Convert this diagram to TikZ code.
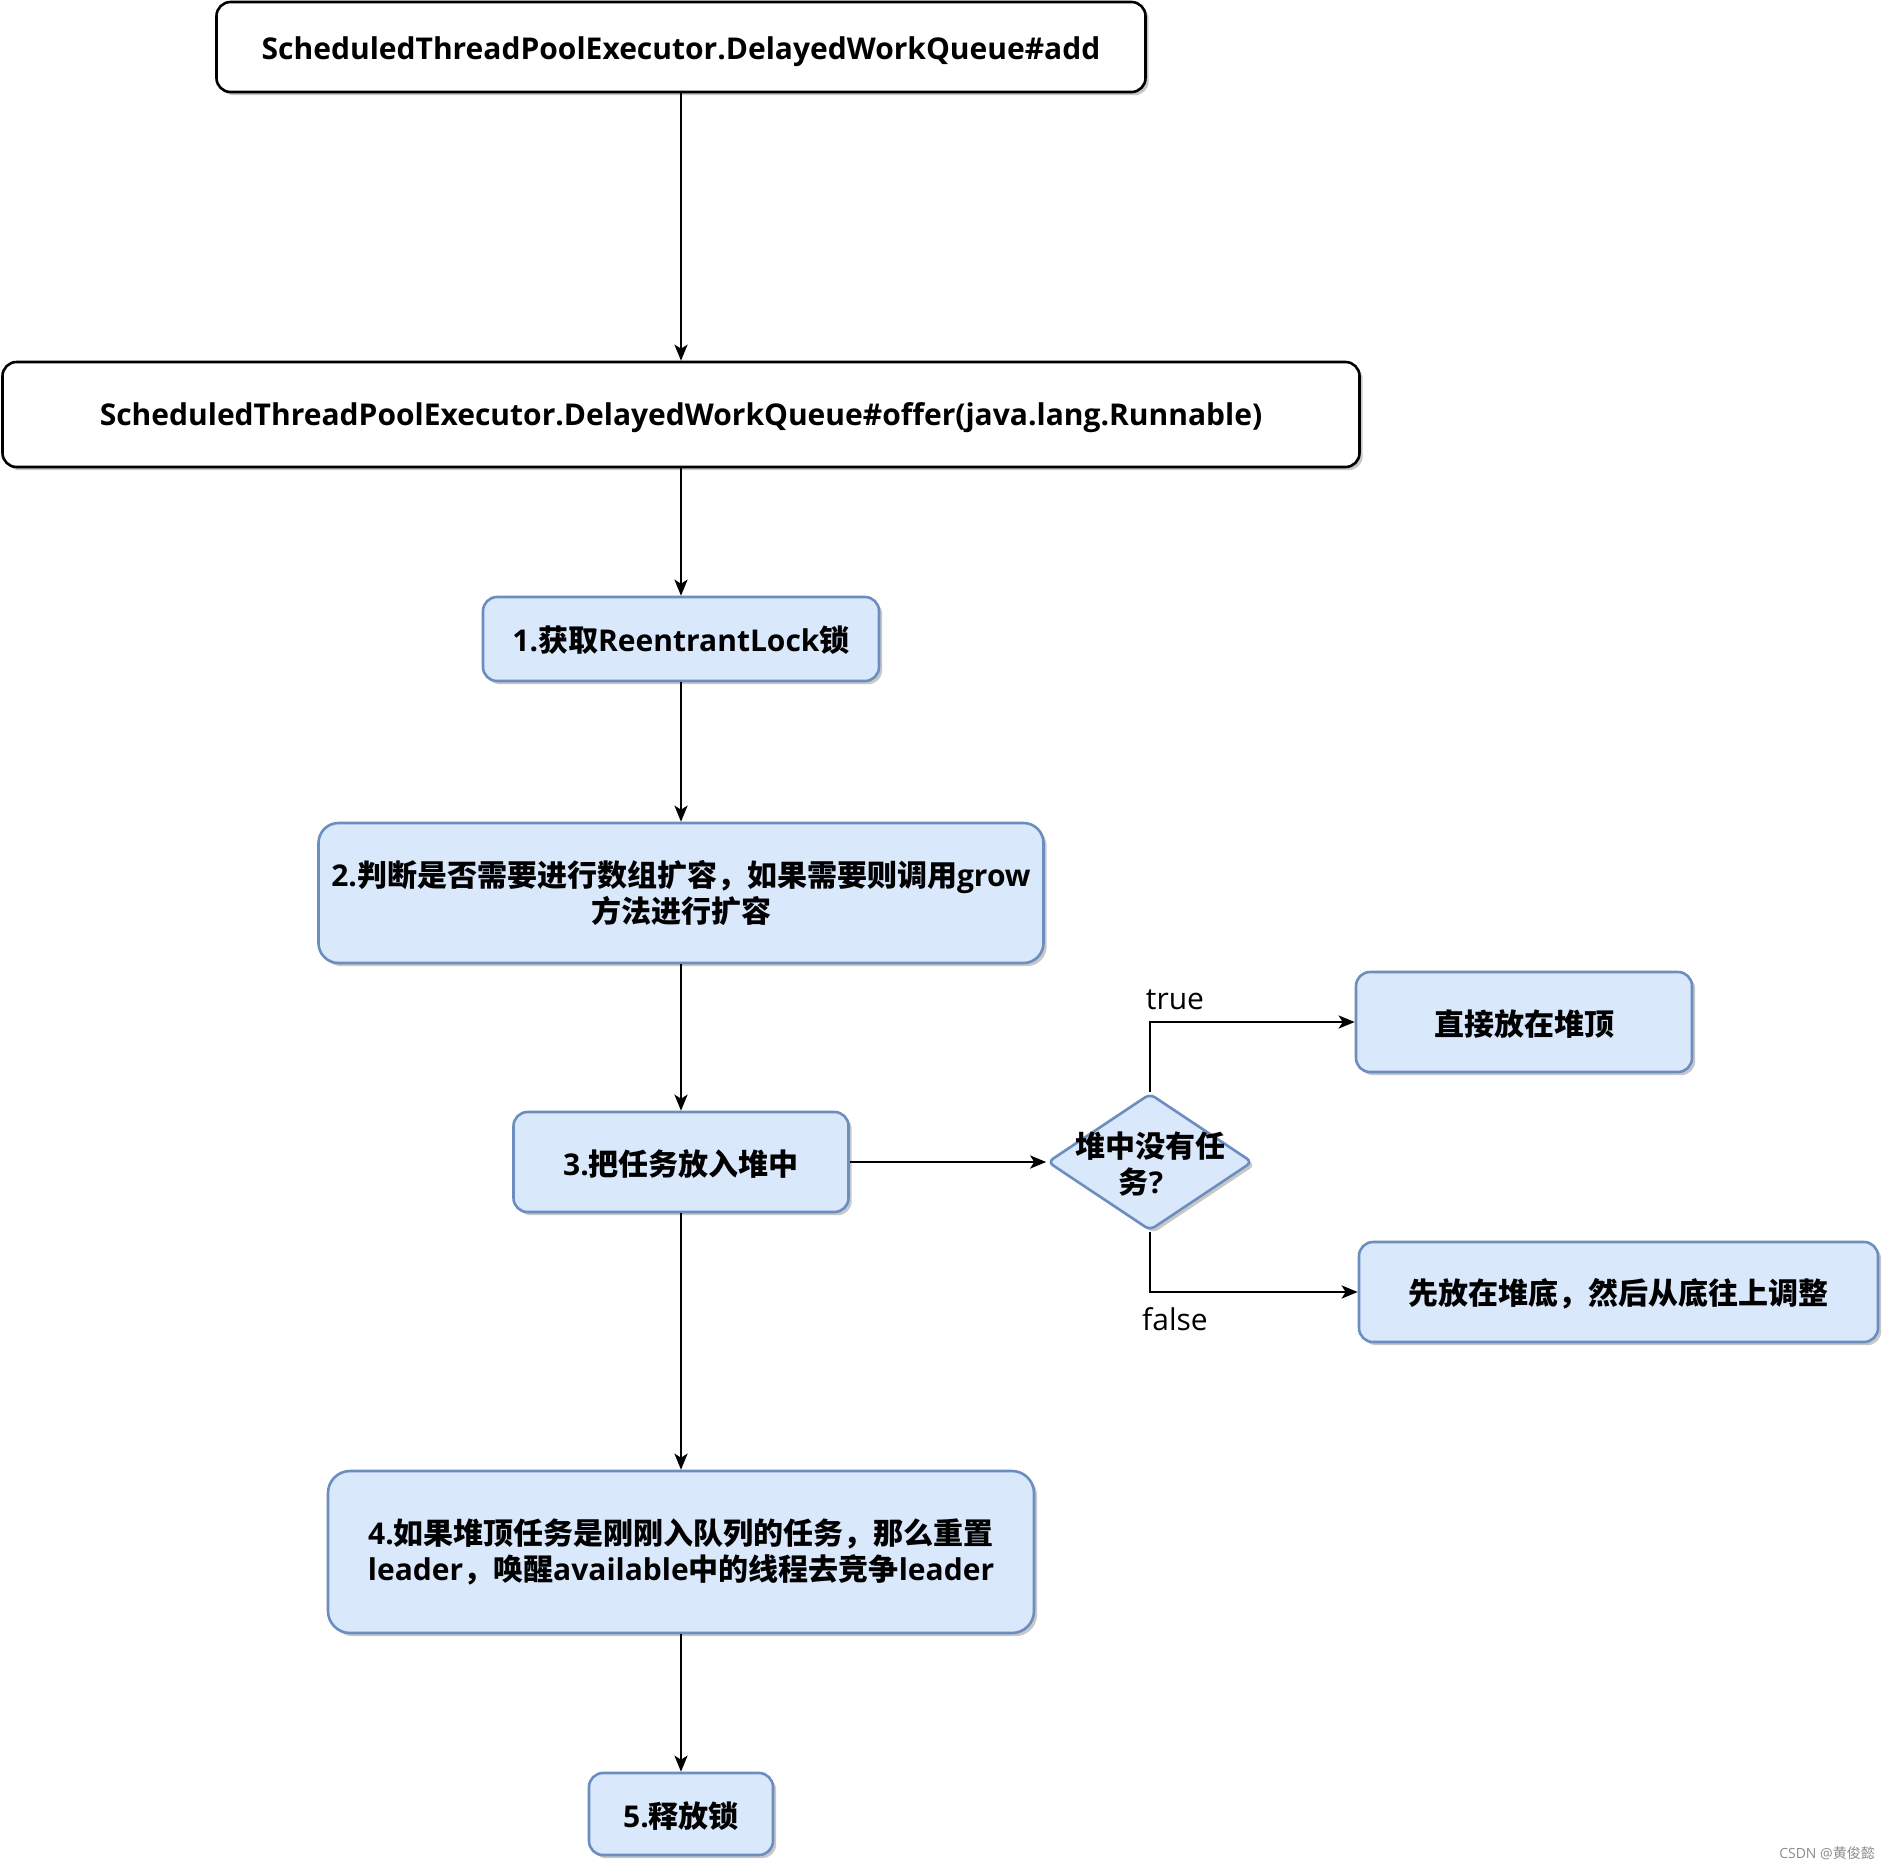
\documentclass[tikz,border=0pt]{standalone}
\usepackage{fontspec}
\setmainfont{Open Sans}
\newfontfamily\cjk{Noto Sans CJK SC}
\newcommand\zh[1]{{\cjk #1}}
\newcommand\lowr[2]{\raisebox{-#1}[\height][\depth]{#2}}
\usetikzlibrary{arrows.meta,shapes.geometric,shadows}
\definecolor{bfill}{HTML}{DAE8FC}
\definecolor{bline}{HTML}{6C8EBF}
\tikzset{
  base/.style={rounded corners=7pt, line width=1.3pt, align=center, inner sep=0pt,
    font=\fontsize{15}{18}\selectfont\bfseries,
    drop shadow={shadow xshift=1.6pt, shadow yshift=-1.6pt, opacity=0.3, fill=black!70}},
  whitebox/.style={base, draw=black, fill=white},
  bluebox/.style={base, draw=bline, fill=bfill},
  decision/.style={diamond, draw=bline, fill=bfill, line width=1.3pt, inner sep=0pt,
    rounded corners=3pt,
    drop shadow={shadow xshift=1.6pt, shadow yshift=-1.6pt, opacity=0.3, fill=black!70}},
  arr/.style={-{Stealth[length=8pt,width=6.5pt,inset=2pt]}, line width=1.3pt, draw=black},
  lbl/.style={font=\fontsize{15}{18}\selectfont, inner sep=0pt}
}
\begin{document}
\begin{tikzpicture}[x=0.5pt,y=-0.5pt]
\useasboundingbox[fill=white] (0,0) rectangle (1891,1870);

\node[whitebox, minimum width=464.5pt, minimum height=45pt] (top) at (681,47)
  {\lowr{2.2pt}{ScheduledThreadPoolExecutor.DelayedWorkQueue\#add}};
\node[whitebox, minimum width=678.5pt, minimum height=52.5pt] (offer) at (681,414.5)
  {\lowr{1.8pt}{ScheduledThreadPoolExecutor.DelayedWorkQueue\#offer(java.lang.Runnable)}};
\node[bluebox, minimum width=198pt, minimum height=42pt] (b1) at (681,639)
  {\lowr{0.8pt}{1.\zh{获取}ReentrantLock\zh{锁}}};
\node[bluebox, minimum width=362.5pt, minimum height=70pt, rounded corners=10pt] (b2) at (681,893)
  {2.\zh{判断是否需要进行数组扩容，如果需要则调用}grow\\\zh{方法进行扩容}};
\node[bluebox, minimum width=167.5pt, minimum height=50pt] (b3) at (681,1162)
  {\lowr{1pt}{3.\zh{把任务放入堆中}}};
\node[decision, minimum width=102.5pt, minimum height=68.5pt] (dia) at (1150,1162) {};
\node[font=\fontsize{15}{18}\selectfont\bfseries, align=center, inner sep=0pt] (diat) at (1150,1164)
  {\zh{堆中没有任}\\\zh{务}?\hspace*{0.6em}};
\node[bluebox, minimum width=168pt, minimum height=50pt] (bt) at (1524,1022)
  {\lowr{1pt}{\zh{直接放在堆顶}}};
\node[bluebox, minimum width=259.5pt, minimum height=50pt] (bf) at (1618.5,1292)
  {\lowr{1pt}{\zh{先放在堆底，然后从底往上调整}}};
\node[bluebox, minimum width=353pt, minimum height=81pt, rounded corners=11pt] (b4) at (681,1552)
  {4.\zh{如果堆顶任务是刚刚入队列的任务，那么重置}\\leader\zh{，唤醒}available\zh{中的线程去竞争}leader};
\node[bluebox, minimum width=92pt, minimum height=41pt] (b5) at (681,1814)
  {\lowr{1pt}{5.\zh{释放锁}}};

\node[lbl] (ltrue) at (1175,1000) {true};
\node[lbl] (lfalse) at (1175,1319) {false};
\node[font=\fontsize{7}{8}\selectfont, text=black!45, inner sep=0pt] (wm) at (1827,1853) {CSDN @\zh{黄俊懿}};

\draw[arr] (top) -- (offer);
\draw[arr] (offer) -- (b1);
\draw[arr] (b1) -- (b2);
\draw[arr] (b2) -- (b3);
\draw[arr] (b3) -- (b4);
\draw[arr] (b4) -- (b5);
\draw[arr] (b3) -- (dia);
\draw[arr] (dia.north) |- (bt.west);
\draw[arr] (dia.south) |- (bf.west);
\end{tikzpicture}
\end{document}
